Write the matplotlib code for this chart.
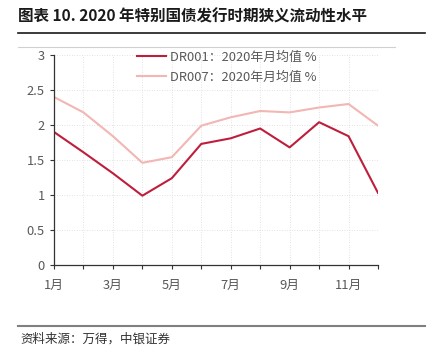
import matplotlib
matplotlib.use("Agg")
import matplotlib.pyplot as plt
from matplotlib.lines import Line2D

plt.rcParams['font.family'] = ['Noto Sans CJK SC', 'DejaVu Sans']

months = ['1月', '2月', '3月', '4月', '5月', '6月', '7月', '8月', '9月', '10月', '11月', '12月']
dr001 = [1.90, 1.61, 1.31, 0.99, 1.24, 1.73, 1.81, 1.95, 1.68, 2.04, 1.84, 1.03]
dr007 = [2.40, 2.18, 1.84, 1.46, 1.54, 1.99, 2.11, 2.20, 2.18, 2.25, 2.30, 1.99]
label001 = 'DR001：2020年月均值 %'
label007 = 'DR007：2020年月均值 %'
title = '图表 10. 2020 年特别国债发行时期狭义流动性水平'
source = '资料来源：万得，中银证券'

c001 = '#BE1E3C'
c007 = '#F2B6B3'
tick_color = '#595959'

fig = plt.figure(figsize=(4.42, 3.58), dpi=100)
ax = fig.add_axes([54/442, 1-265/358, (378-54)/442, (265-55)/358])

x = list(range(len(months)))
ax.plot(x, dr001, color=c001, lw=1.5, label=label001)
ax.plot(x, dr007, color=c007, lw=1.5, label=label007)

ax.set_xlim(0, 11)
ax.set_ylim(0, 3)
ax.set_xticks(x)
ax.set_xticklabels([m if i % 2 == 0 else '' for i, m in enumerate(months)])
ax.set_yticks([0, 0.5, 1, 1.5, 2, 2.5, 3])
ax.set_yticklabels(['0', '0.5', '1', '1.5', '2', '2.5', '3'])
ax.tick_params(axis='both', colors='#333333', labelcolor=tick_color, labelsize=9.3, length=3, width=0.8)
ax.tick_params(axis='x', pad=7)
ax.grid(True, color='#D9D9D9', ls=(0, (1, 2)), lw=0.6)
for s in ['top', 'right']:
    ax.spines[s].set_visible(False)
for s in ['left', 'bottom']:
    ax.spines[s].set_color('#333333')
    ax.spines[s].set_linewidth(0.9)

leg = ax.legend(loc='upper center', bbox_to_anchor=(0.533, 1.075), frameon=False,
                fontsize=9.3, labelcolor=tick_color, handlelength=2.3, labelspacing=0.55,
                handletextpad=0.3)

fig.text(18/442, 1-22/358, title, fontsize=11.2, fontweight='bold', color='#1a1a1a', va='baseline')
fig.add_artist(Line2D([18/442, 425/442], [1-33/358, 1-33/358], color='#1a1a1a', lw=1.2))
fig.add_artist(Line2D([18/442, 395/442], [1-47/358, 1-47/358], color='#D0D0D0', lw=0.8))
fig.add_artist(Line2D([18/442, 425/442], [1-325.5/358, 1-325.5/358], color='#808080', lw=1.5))
fig.text(20/442, 1-343/358, source, fontsize=9, style='italic', color='#333333', va='baseline')

fig.savefig('out.png', dpi=100)
